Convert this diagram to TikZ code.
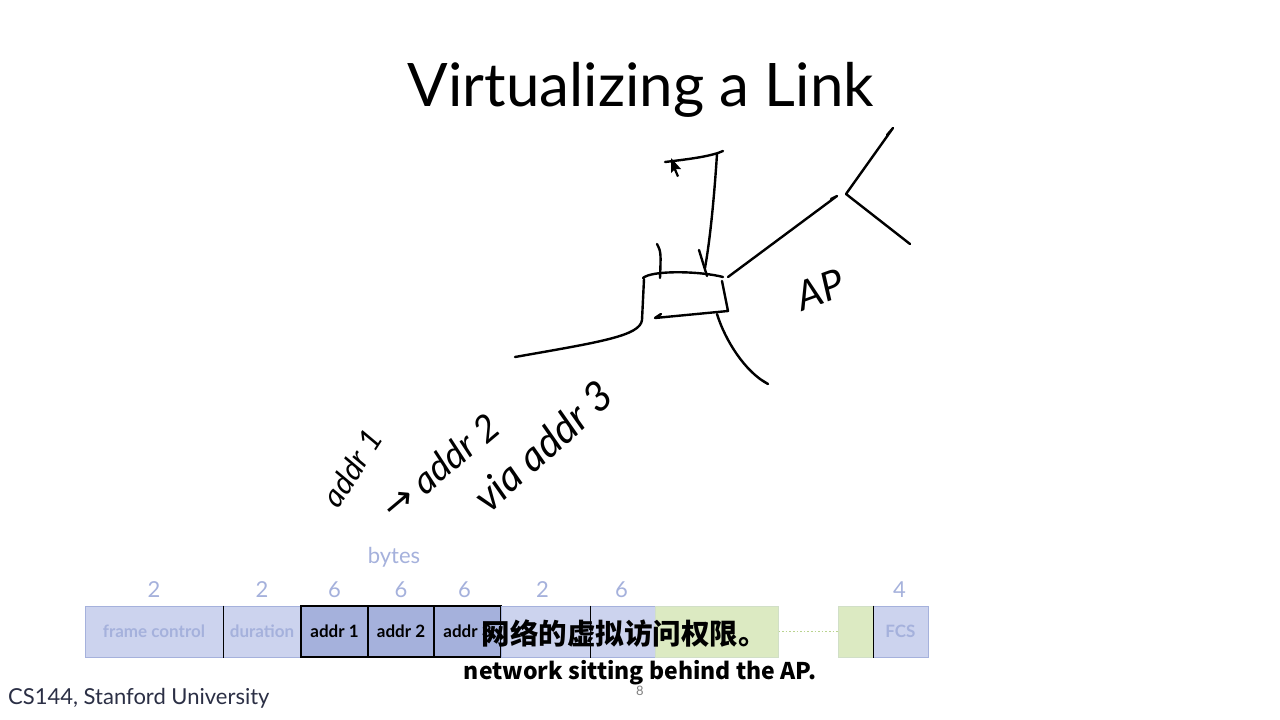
\documentclass[tikz,border=0pt]{standalone}
\usepackage{fontspec}
\setmainfont{Lato}
\newfontfamily\cjk{Noto Sans CJK SC}
\newfontfamily\symfont{DejaVu Sans}
\usetikzlibrary{positioning}

\definecolor{fieldblue}{HTML}{A5B1DC}
\definecolor{fadeblue}{HTML}{CCD3EE}
\definecolor{fadegreen}{HTML}{DCEAC2}
\definecolor{dotgreen}{HTML}{B9D38F}
\definecolor{footgray}{HTML}{2B2F45}

\tikzset{
  field/.style={draw=black, line width=1.3pt, fill=fieldblue, minimum height=51pt,
    inner sep=0pt, font=\fontsize{17}{17}\selectfont\bfseries, text=black},
  fadefield/.style={draw=fieldblue, line width=1pt, fill=fadeblue, minimum height=51pt,
    inner sep=0pt, font=\fontsize{17}{17}\selectfont\bfseries, text=fieldblue},
  greenfield/.style={draw=fadegreen!80!fieldblue, line width=1pt, fill=fadegreen,
    minimum height=51pt, inner sep=0pt},
  bytenum/.style={text=fieldblue, font=\fontsize{22}{22}\selectfont},
  ink/.style={line width=2.4pt, line cap=round, line join=round},
  scrawl/.style={font=\fontsize{34}{34}\selectfont\itshape, inner sep=0pt},
  subtitle/.style={font=\cjk\bfseries, text=black}
}

\begin{document}
\begin{tikzpicture}[x=1pt, y=-1pt]
        \useasboundingbox (0,0) rectangle (1280,720);
        \fill[white] (0,0) rectangle (1280,720);

        % 标题
        \node[font=\fontsize{60}{60}\selectfont] (title) at (641,90) {Virtualizing a Link};

        % 帧的各个字段
        \node[fadefield, minimum width=138pt] (fc) at (154,631.5) {frame control};
        \node[fadefield, minimum width=78pt] (dur) at (262,631.5) {duration};
        \node[field, minimum width=67pt] (a1) at (334.5,631.5) {addr 1};
        \node[field, minimum width=66pt] (a2) at (401,631.5) {addr 2};
        \node[field, minimum width=67pt] (a3) at (467.5,631.5) {addr 3};
        \node[fadefield, minimum width=89pt] (seq) at (545.5,631.5) {};
        \node[fadefield, minimum width=65pt] (a4) at (622.5,631.5) {};
        \node[greenfield, minimum width=123pt] (pay) at (716.5,631.5) {};
        \node[greenfield, minimum width=35pt] (tail) at (855.5,631.5) {};
        \node[fadefield, minimum width=55pt] (fcs) at (900.5,631.5) {FCS};

        % 字段之间的分隔线
        \draw[line width=1.3pt] (fc.north east) -- (fc.south east);
        \draw[line width=1.3pt] (seq.north east) -- (seq.south east);
        \draw[line width=1.3pt] (tail.north east) -- (tail.south east);
        \draw[dotgreen, line width=1.6pt, dotted] (pay.east) -- (tail.west);

        % 字节数
        \node[bytenum, above=4pt of fc.north] (nfc) {2};
        \node[bytenum, above=4pt of dur.north] (ndur) {2};
        \node[bytenum, above=4pt of a1.north] (na1) {6};
        \node[bytenum, above=4pt of a2.north] (na2) {6};
        \node[bytenum, above=4pt of a3.north, xshift=-3pt] (na3) {6};
        \node[bytenum, above=4pt of seq.north, xshift=-3pt] (nseq) {2};
        \node[bytenum, above=4pt of a4.north, xshift=-1pt] (na4) {6};
        \node[bytenum, above=4pt of fcs.north, xshift=-1pt] (nfcs) {4};
        \node[bytenum] (bytes) at (394,557) {bytes};

        % 手绘：路由器和线
        \draw[ink] (665,162) .. controls (690,159) and (705,157) .. (718,153) -- (723,151);
        \draw[ink] (717,154) .. controls (714,200) and (710,240) .. (705,268);
        \draw[ink] (699,250) -- (707,276);
        \draw[ink] (657,244) .. controls (661,252) .. (660,278);
        \draw[ink] (643,278) .. controls (652,270) and (700,271) .. (723,277);
        \draw[ink] (644,279) -- (642,320) .. controls (640,336) and (600,342) .. (515,357);
        \draw[ink] (722,281) -- (728,311) -- (655,318) -- (661,314);
        \draw[ink] (717,314) .. controls (725,340) and (745,372) .. (768,384) -- (760,379);
        \draw[ink] (728,277) -- (837,196) -- (831,199);
        \draw[ink] (887,135) -- (893,128) -- (846,194) -- (910,244);

        % 鼠标指针
        \fill[black] (671,158) -- (671,173) -- (674,170) -- (677,177) -- (679,176) -- (676,169) -- (681,169) -- cycle;

        % 手写文字
        \node[scrawl, font=\fontsize{40}{40}\selectfont\itshape, rotate=20] (ap) at (820,290) {AP};
        \node[scrawl, font=\fontsize{31}{31}\selectfont\itshape, rotate=57] (h1) at (352,468) {addr 1};
        \node[scrawl, font=\fontsize{37}{37}\selectfont\itshape, rotate=40] (h2) at (440,466) {{\symfont →} addr 2};
        \node[scrawl, font=\fontsize{41}{41}\selectfont\itshape, rotate=42] (h3) at (543,446) {via addr 3};

        % 页脚和页码
        \node[anchor=west, text=footgray, font=\fontsize{22}{22}\selectfont, inner sep=0pt] (foot) at (8,698) {CS144, Stanford University};
        \node[text=gray, font=\fontsize{13}{13}\selectfont] (page) at (640,691) {8};

        % 字幕
        \node[subtitle, font=\cjk\bfseries\fontsize{28.5}{29}\selectfont] (zh) at (624,634) {网络的虚拟访问权限。};
        \node[subtitle, font=\cjk\bfseries\fontsize{23}{23}\selectfont] (en) at (640,673) {network sitting behind the AP.};
    \end{tikzpicture}
\end{document}
